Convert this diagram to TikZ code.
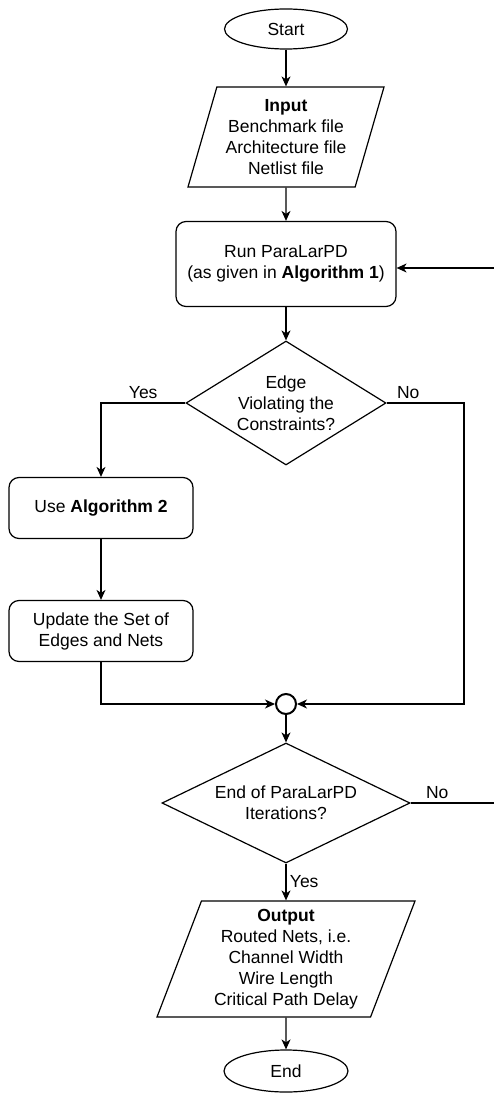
\documentclass[tikz,border=0pt]{standalone}
\usepackage{fontspec}
\setmainfont{Liberation Sans}
\usetikzlibrary{shapes.geometric,arrows.meta}

\tikzset{
  txt/.style={font=\fontsize{17.5}{21}\selectfont},
  flow/.style={line width=1.2pt,-{Stealth[length=10pt,width=9pt,inset=3pt]}},
  term/.style={txt,ellipse,draw,line width=1.2pt,minimum width=123pt,minimum height=40pt,inner sep=0pt},
  iobox/.style={txt,trapezium,trapezium stretches body,draw,line width=1.2pt,align=center,inner sep=0pt},
  procbox/.style={txt,rectangle,rounded corners=10pt,draw,line width=1.2pt,align=center},
  decide/.style={txt,diamond,draw,line width=1.2pt,align=center,inner sep=0pt},
}

\begin{document}
\begin{tikzpicture}[x=1pt,y=-1pt]
  \useasboundingbox (0,0) rectangle (494,1094);

  \node[term] (start) at (286,29) {Start};
  \node[iobox,trapezium left angle=69,trapezium right angle=111,
        minimum width=196pt,minimum height=100pt] (input) at (286,137)
        {\textbf{Input}\\Benchmark file\\Architecture file\\Netlist file};
  \node[procbox,minimum width=220pt,minimum height=85pt] (run) at (286,264)
        {Run ParaLarPD\\(as given in \textbf{Algorithm 1})};
  \node[decide,shape aspect=1.6,minimum width=200pt,minimum height=124pt] (check) at (286,403)
        {Edge\\Violating the\\Constraints?};
  \node[procbox,minimum width=184pt,minimum height=61pt] (use) at (101,508)
        {Use \textbf{Algorithm 2}};
  \node[procbox,minimum width=184pt,minimum height=61pt] (update) at (101,631)
        {Update the Set of\\Edges and Nets};
  \node[circle,draw,line width=2pt,minimum size=20pt,inner sep=0pt] (join) at (286,704) {};
  \node[decide,shape aspect=2.07,minimum width=248pt,minimum height=120pt] (iter) at (286,803)
        {End of ParaLarPD\\Iterations?};
  \node[iobox,trapezium left angle=66,trapezium right angle=114,
        minimum width=258pt,minimum height=116pt] (output) at (286,959)
        {\textbf{Output}\\Routed Nets, i.e.\\Channel Width\\Wire Length\\Critical Path Delay};
  \node[term,minimum width=124pt,minimum height=42pt] (stop) at (286,1071) {End};

  % loose ends at the right margin
  \coordinate (nobend) at (464,403);
  \coordinate (loop) at (494,268);
  \coordinate (exit) at (494,803);

  \draw[flow] (start) -- (input);
  \draw[flow] (input) -- (run);
  \draw[flow] (run) -- (check);
  \draw[flow] (check) -| node[txt,pos=0.25,above] {Yes} (use);
  \draw[flow] (check) -- node[txt,pos=0.28,above] {No} (nobend) |- (join);
  \draw[flow] (use) -- (update);
  \draw[flow] (update) |- (join);
  \draw[flow] (join) -- (iter);
  \draw[line width=1.2pt] (iter) -- node[txt,pos=0.32,above] {No} (exit);
  \draw[flow] (loop) -- (run.east |- loop);
  \draw[flow] (iter) -- node[txt,right] {Yes} (output);
  \draw[flow] (output) -- (stop);

\end{tikzpicture}
\end{document}
